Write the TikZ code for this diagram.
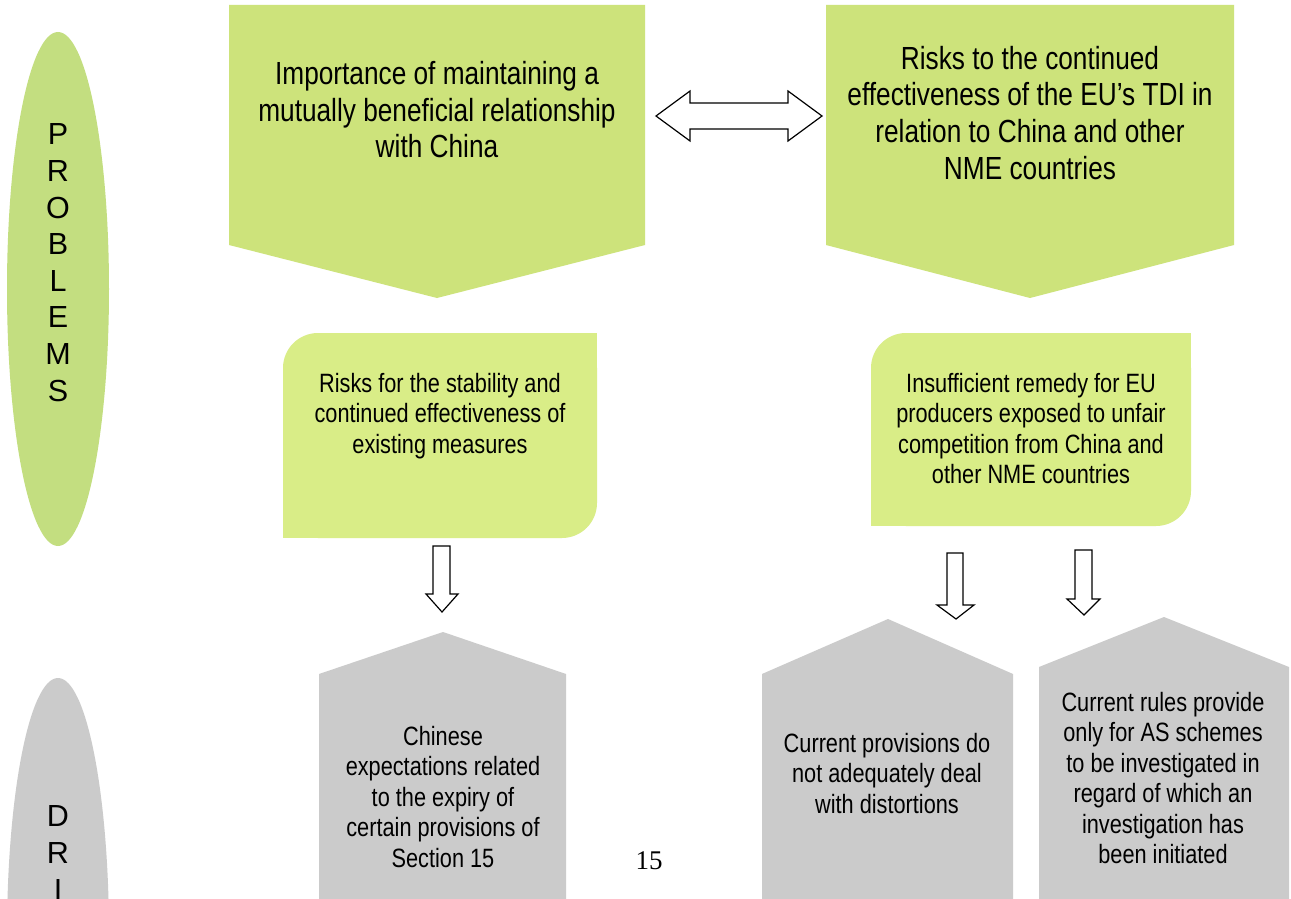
\documentclass[tikz,border=0pt]{standalone}
\usepackage{fontspec}
\setmainfont{Liberation Sans}[FakeStretch=0.82]
\newfontfamily\widesans{Liberation Sans}
\newfontfamily\serifnum{Liberation Serif}
\usetikzlibrary{shapes.geometric}
\definecolor{probgreen}{RGB}{195,222,128}
\definecolor{topgreen}{RGB}{205,227,123}
\definecolor{midgreen}{RGB}{217,237,135}
\definecolor{greyfill}{RGB}{203,203,203}
\tikzset{
  toptext/.style={align=center, anchor=base, inner sep=0pt, font=\fontsize{32}{36.8}\selectfont},
  midtext/.style={align=center, anchor=base, inner sep=0pt, font=\fontsize{26.5}{30.5}\selectfont},
  lettertext/.style={align=center, anchor=base, inner sep=0pt, font=\widesans\fontsize{30.5}{36.6}\selectfont},
  sideoval/.style={ellipse, inner sep=0pt, minimum width=102pt, minimum height=514pt},
  blockarrow/.style={draw=black, fill=white, line width=1.2pt, line join=miter},
}
\begin{document}
\begin{tikzpicture}[x=1pt,y=-1pt]
\useasboundingbox (0,0) rectangle (1291,899);
\clip (0,0) rectangle (1291,899);
\fill[white] (0,0) rectangle (1291,899);

% side ovals (anchor base = baseline of the last line)
\node[sideoval, fill=probgreen] (problems) at (58,289) {};
\node[lettertext] (problemslabel) at (58,401) {P\\R\\O\\B\\L\\E\\M\\S};
\node[sideoval, fill=greyfill] (drivers) at (58,935) {};
\node[lettertext] (driverslabel) at (58,900) {D\\R\\I};

% top pentagons
\fill[topgreen] (229,5) -- (645,5) -- (645,245) -- (437,298) -- (229,245) -- cycle;
\node[toptext] (importance) at (437,157.8) {Importance of maintaining a\\mutually beneficial relationship\\with China};
\fill[topgreen] (826,5) -- (1234,5) -- (1234,245) -- (1030,298) -- (826,245) -- cycle;
\node[toptext] (risks) at (1030,179.4) {Risks to the continued\\effectiveness of the EU’s TDI in\\relation to China and other\\NME countries};

% double arrow
\draw[blockarrow] (656,116) -- (690,91) -- (690,103) -- (788,103) -- (788,91) -- (822,116)
  -- (788,141) -- (788,129) -- (690,129) -- (690,141) -- cycle;

% middle boxes
\fill[midgreen, rounded corners=35pt] (283,333) rectangle (597,538);
\fill[midgreen] (560,333) rectangle (597,372);
\fill[midgreen] (283,500) rectangle (322,538);
\node[midtext] (stability) at (440,453) {Risks for the stability and\\continued effectiveness of\\existing measures};
\fill[midgreen, rounded corners=35pt] (871,333) rectangle (1191,526);
\fill[midgreen] (1154,333) rectangle (1191,372);
\fill[midgreen] (871,488) rectangle (910,526);
\node[midtext] (remedy) at (1031,483.5) {Insufficient remedy for EU\\producers exposed to unfair\\competition from China and\\other NME countries};

% down arrows
\draw[blockarrow] (433,546) -- (450,546) -- (450,594) -- (458,594) -- (442,612) -- (426,594) -- (433,594) -- cycle;
\draw[blockarrow] (947,553) -- (963,553) -- (963,605) -- (974,605) -- (956,619) -- (937,605) -- (947,605) -- cycle;
\draw[blockarrow] (1075,550) -- (1092,550) -- (1092,599) -- (1100,599) -- (1084,615) -- (1067,599) -- (1075,599) -- cycle;

% grey houses
\fill[greyfill] (319,910) -- (319,674) -- (443,632) -- (566,674) -- (566,910) -- cycle;
\node[midtext] (chinese) at (443,867) {Chinese\\expectations related\\to the expiry of\\certain provisions of\\Section 15};
\fill[greyfill] (762,910) -- (762,674) -- (888,619) -- (1013,674) -- (1013,910) -- cycle;
\node[midtext] (provisions) at (887,813) {Current provisions do\\not adequately deal\\with distortions};
\fill[greyfill] (1039,910) -- (1039,667) -- (1164,617) -- (1289,667) -- (1289,910) -- cycle;
\node[midtext] (rules) at (1163,863.5) {Current rules provide\\only for AS schemes\\to be investigated in\\regard of which an\\investigation has\\been initiated};

% page number
\node[anchor=base, inner sep=0pt, font=\serifnum\fontsize{27}{30}\selectfont] (pagenum) at (649,869) {15};
\end{tikzpicture}
\end{document}
